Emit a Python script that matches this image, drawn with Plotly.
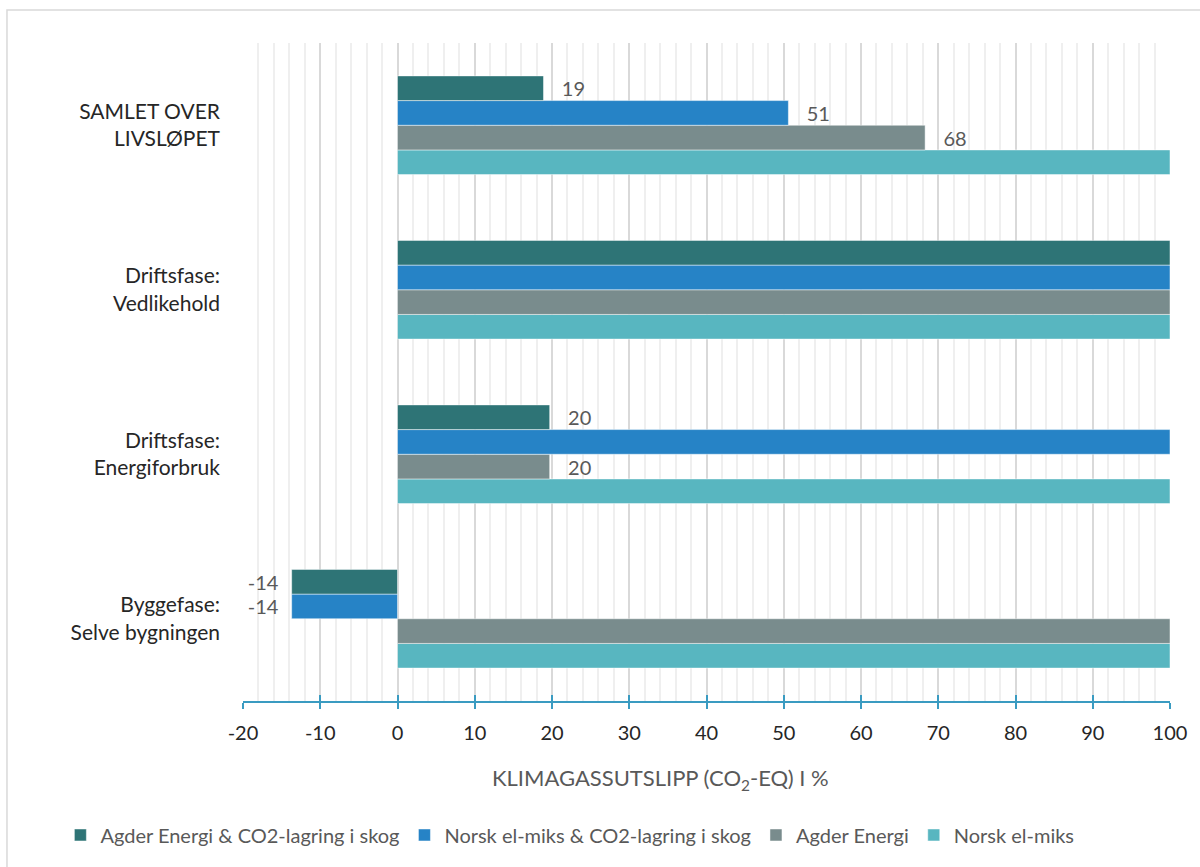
import plotly.graph_objects as go

categories = ["Byggefase:<br>Selve bygningen", "Driftsfase:<br>Energiforbruk",
              "Driftsfase:<br>Vedlikehold", "SAMLET OVER<br>LIVSLØPET"]
series_names = ["Agder Energi & CO2-lagring i skog", "Norsk el-miks & CO2-lagring i skog",
                "Agder Energi", "Norsk el-miks"]
agder_co2 = [-13.7, 19.7, 100, 18.9]
norsk_co2 = [-13.7, 100, 100, 50.6]
agder = [100, 19.7, 100, 68.3]
norsk = [100, 100, 100, 100]
colors = ["#2E7476", "#2683C6", "#798C8D", "#58B6C0"]
x_ticks = [-20, -10, 0, 10, 20, 30, 40, 50, 60, 70, 80, 90, 100]

all_values = [agder_co2, norsk_co2, agder, norsk]

FONT = "Lato"
NB = "\u00a0"


def label(v):
    if v == 100:
        return ""
    s = f"{round(v):d}"
    return s + NB * 2 if v < 0 else NB * 3 + s


fig = go.Figure()
# add in reverse so first series sits on top of each group
for i in reversed(range(4)):
    vals = all_values[i]
    fig.add_trace(go.Bar(
        y=categories, x=vals, name=series_names[i], orientation="h",
        marker=dict(color=colors[i], line=dict(width=0.8, color="rgba(255,255,255,0.6)")),
        text=[label(v) for v in vals], textposition="outside", cliponaxis=False,
        textfont=dict(family=FONT, size=20, color="#595959"),
        legendrank=i + 1,
    ))

fig.update_layout(
    width=1200, height=867,
    barmode="group", bargap=0.4, bargroupgap=0,
    plot_bgcolor="white", paper_bgcolor="white",
    margin=dict(l=243, r=30, t=43, b=166),
    font=dict(family=FONT, color="#262626"),
    showlegend=True,
    legend=dict(orientation="h", xref="paper", yref="paper",
                x=-0.197, xanchor="left", y=-0.2036, yanchor="middle",
                font=dict(family=FONT, size=20, color="#595959"),
                itemwidth=30, traceorder="normal"),
    xaxis=dict(range=[-20, 100], tickvals=x_ticks, ticktext=[str(t) for t in x_ticks],
               showgrid=True, gridcolor="#D9D9D9", gridwidth=1.5,
               minor=dict(dtick=2, tick0=0, showgrid=True, gridcolor="#EFEFEF", gridwidth=1.5),
               zeroline=False, showline=True, linecolor="#3A9BC1", linewidth=2,
               ticks="outside", ticklen=6, tickwidth=2, tickcolor="#3A9BC1",
               ticklabelstandoff=7,
               tickfont=dict(family=FONT, size=20, color="#262626")),
    xaxis2=dict(range=[-20, 100], tickvals=x_ticks, overlaying="x", side="bottom",
                showgrid=False, zeroline=False, showticklabels=False,
                ticks="inside", ticklen=6, tickwidth=2, tickcolor="#3A9BC1"),
    yaxis=dict(showgrid=False, zeroline=False, showline=False, ticks="",
               ticklabelstandoff=22, tickfont=dict(family=FONT, size=21, color="#262626"),
               categoryorder="array", categoryarray=categories),
)
# invisible trace to activate xaxis2
fig.add_trace(go.Scatter(x=[0], y=[categories[0]], xaxis="x2", mode="markers",
                         marker=dict(opacity=0), showlegend=False, hoverinfo="skip"))

fig.add_annotation(text="KLIMAGASSUTSLIPP (CO<sub>2</sub>-EQ) I %", xref="paper", yref="paper",
                   x=0.45, y=-0.1185, showarrow=False, xanchor="center", yanchor="middle",
                   font=dict(family=FONT, size=22, color="#595959"))
fig.add_shape(type="rect", xref="paper", yref="paper", x0=-0.2546, x1=1.0378, y0=-0.272, y1=1.0502,
              line=dict(color="#D9D9D9", width=1.5), fillcolor="rgba(0,0,0,0)", layer="below")

fig.write_html("out.html")
